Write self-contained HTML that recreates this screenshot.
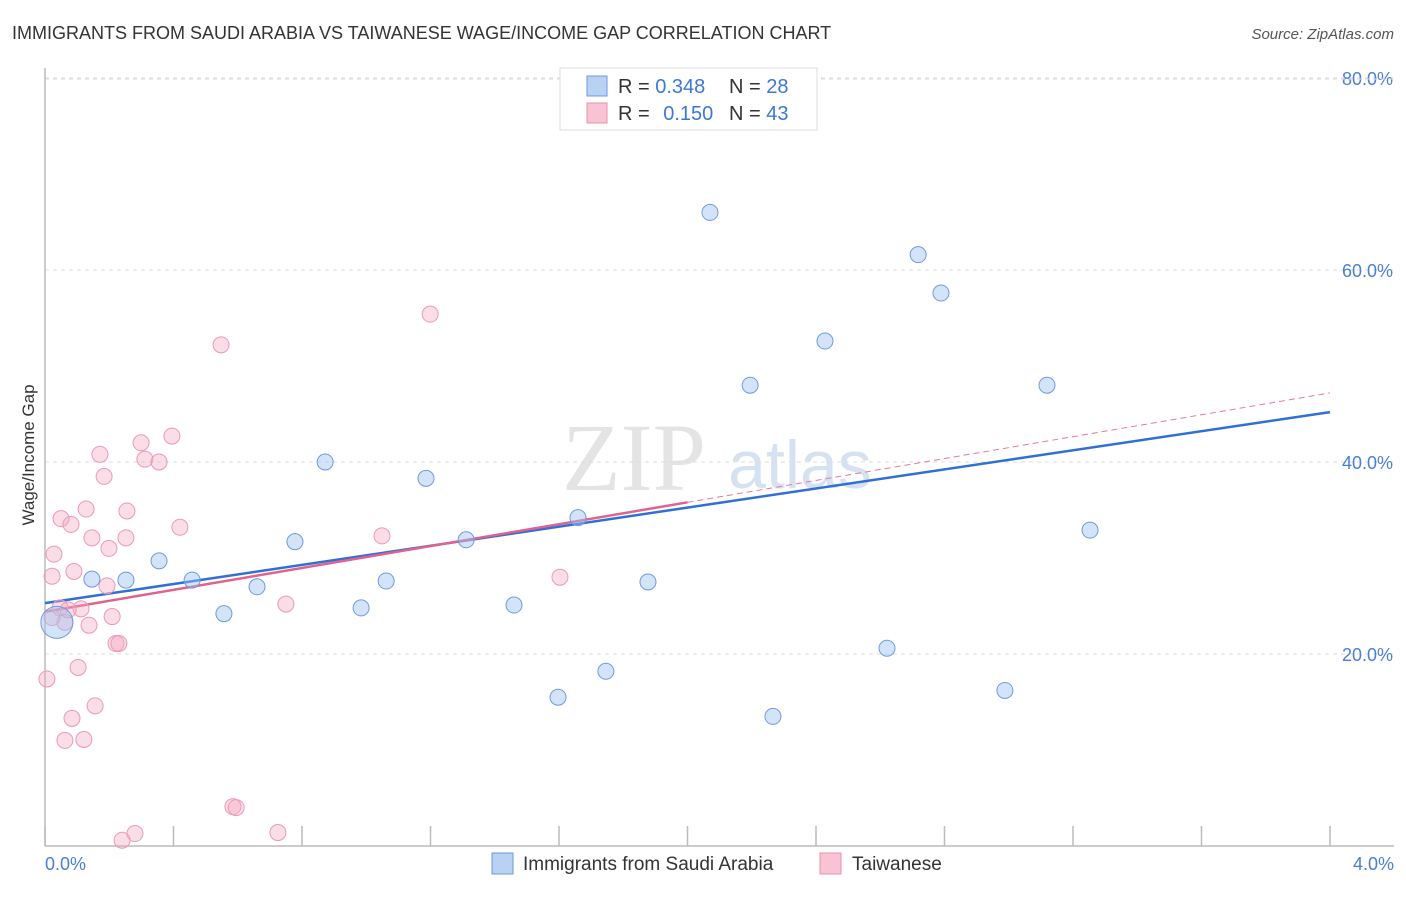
<!DOCTYPE html>
<html><head><meta charset="utf-8"><style>
body{margin:0;background:#fff;font-family:"Liberation Sans",sans-serif;}
svg text{font-family:"Liberation Sans",sans-serif;}
</style></head><body>
<svg id="chart" width="1406" height="892" xmlns="http://www.w3.org/2000/svg">
<text x="12" y="39" font-size="18" fill="#333">IMMIGRANTS FROM SAUDI ARABIA VS TAIWANESE WAGE/INCOME GAP CORRELATION CHART</text>
<text x="1394" y="39" font-size="15" fill="#555" text-anchor="end" font-style="italic">Source: ZipAtlas.com</text>
<g>
<text x="634" y="490" font-size="96" fill="#e4e4e4" text-anchor="middle" font-family="Liberation Serif" style="font-family:'Liberation Serif',serif">ZIP</text>
<text x="800" y="488" font-size="68" fill="#d6e2f2" text-anchor="middle">atlas</text>
</g>
<g id="grid"></g><g id="axes"></g><g id="lines"></g><g id="pts"></g>
<text transform="translate(34,455) rotate(-90)" font-size="17" fill="#333" text-anchor="middle">Wage/Income Gap</text>
<text x="45" y="870" font-size="18" fill="#4a7fd4">0.0%</text>
<text x="1394" y="870" font-size="18" fill="#4a7fd4" text-anchor="end">4.0%</text>
<g>
<rect x="560" y="68" width="257" height="62" fill="#fff" stroke="#ddd"/>
<rect x="587" y="76" width="20" height="20" fill="#b9d1f3" stroke="#6d9be0"/>
<rect x="587" y="103" width="20" height="20" fill="#f8c4d4" stroke="#e890ad"/>
<text x="618" y="93" font-size="20" fill="#333">R = <tspan fill="#3b78d6">0.348</tspan></text>
<text x="729" y="93" font-size="20" fill="#333">N = <tspan fill="#3b78d6">28</tspan></text>
<text x="618" y="120" font-size="20" fill="#333">R = <tspan fill="#3b78d6" dx="8">0.150</tspan></text>
<text x="729" y="120" font-size="20" fill="#333">N = <tspan fill="#3b78d6">43</tspan></text>
</g>
<g>
<rect x="492" y="853" width="21" height="21" fill="#b9d1f3" stroke="#6d9be0"/>
<text x="523" y="870" font-size="19" fill="#333">Immigrants from Saudi Arabia</text>
<rect x="820" y="853" width="21" height="21" fill="#f8c4d4" stroke="#e890ad"/>
<text x="852" y="870" font-size="19" fill="#333">Taiwanese</text>
</g>
</svg>
<script>
const blueX=[0.146,0.252,0.355,0.458,0.557,0.660,0.778,0.872,0.984,1.062,1.186,1.311,1.460,1.597,1.659,1.746,1.877,2.070,2.195,2.266,2.428,2.621,2.718,2.789,2.988,3.119,3.253,0.037];
const blueY=[27.8,27.7,29.7,27.7,24.2,27.0,31.7,40.0,24.8,27.6,38.3,31.9,25.1,15.5,34.2,18.2,27.5,66.0,48.0,13.5,52.6,20.6,61.6,57.6,16.2,48.0,32.9,23.3];
const pinkX=[0.006,0.028,0.022,0.050,0.081,0.047,0.062,0.090,0.103,0.112,0.121,0.128,0.137,0.146,0.156,0.084,0.062,0.171,0.184,0.193,0.199,0.209,0.221,0.230,0.252,0.255,0.299,0.311,0.355,0.395,0.420,0.548,0.585,0.595,0.750,0.725,1.049,1.199,1.603,0.280,0.240,0.022,0.072];
const pinkY=[17.4,30.4,28.1,34.1,33.5,24.8,23.3,28.6,18.6,24.7,11.1,35.1,23.0,32.1,14.6,13.3,11.0,40.8,38.5,27.1,31.0,23.9,21.1,21.1,32.1,34.9,42.0,40.3,40.0,42.7,33.2,52.2,4.1,4.0,25.2,1.4,32.3,55.4,28.0,1.3,0.6,23.8,24.6];
const blueTrend=[25.3,45.2];
const pinkTrend=[24.4,47.2];
const pinkSolidEnd=2.0;
const yTicks=[20,40,60,80];
const yTickLabels=["20.0%","40.0%","60.0%","80.0%"];
const xTicks=[0,0.4,0.8,1.2,1.6,2.0,2.4,2.8,3.2,3.6,4.0];
const NS="http://www.w3.org/2000/svg";
const sx=v=>45+v/4*1285;
const sy=v=>846-v*9.6;
function mk(tag,attrs,parent){const e=document.createElementNS(NS,tag);for(const k in attrs)e.setAttribute(k,attrs[k]);document.getElementById(parent).appendChild(e);return e;}
yTicks.forEach((t,i)=>{
 const g=mk('line',{x1:45,x2:1394,y1:sy(t),y2:sy(t),stroke:'#ddd','stroke-dasharray':'4,4'},'grid');
 
 
 const l=mk('text',{x:1393,y:sy(t)+7,'font-size':18,fill:'#4a7fd4','text-anchor':'end'},'grid');
 l.textContent=yTickLabels[i];
 
 
});
const tg=mk('line',{x1:45,x2:1394,y1:79,y2:79,stroke:'#ddd','stroke-dasharray':'4,4'},'grid');


const ya=mk('line',{x1:45,x2:45,y1:68,y2:846,stroke:'#bbb','stroke-width':1.5},'axes');


const xa=mk('line',{x1:45,x2:1394,y1:846,y2:846,stroke:'#bbb','stroke-width':1.5},'axes');


xTicks.forEach(t=>{
 const k=mk('line',{x1:sx(t),x2:sx(t),y1:826,y2:846,stroke:'#bbb','stroke-width':1.5},'axes');
 
 
});
const pt=v=>pinkTrend[0]+(pinkTrend[1]-pinkTrend[0])*v/4;
const pd=mk('line',{x1:sx(pinkSolidEnd),y1:sy(pt(pinkSolidEnd)),x2:sx(4),y2:sy(pt(4)),stroke:'#e8799c','stroke-width':1,'stroke-dasharray':'6,4'},'lines');


const bl=mk('line',{x1:sx(0),y1:sy(blueTrend[0]),x2:sx(4),y2:sy(blueTrend[1]),stroke:'#2f6fd6','stroke-width':2.5},'lines');


const pl=mk('line',{x1:sx(0),y1:sy(pt(0)),x2:sx(pinkSolidEnd),y2:sy(pt(pinkSolidEnd)),stroke:'#e0628e','stroke-width':2.5},'lines');


pinkX.forEach((x,i)=>{
 const c=mk('circle',{cx:sx(x),cy:sy(pinkY[i]),r:8,fill:'rgba(244,170,195,0.4)',stroke:'#ea9ab6','stroke-width':1},'pts');
 
 
});
blueX.forEach((x,i)=>{
 const big=i===blueX.length-1;
 const c=mk('circle',{cx:sx(x),cy:sy(blueY[i]),r:big?16:8,fill:'rgba(160,195,240,0.45)',stroke:'#6d9be0','stroke-width':1},'pts');
 
 
});
</script>
</body></html>
